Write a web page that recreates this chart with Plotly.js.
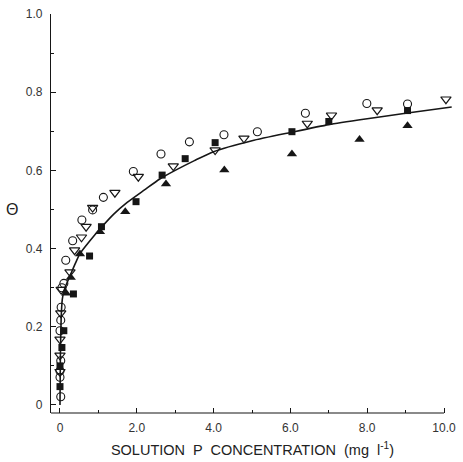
<!DOCTYPE html>
<html>
<head>
<meta charset="utf-8">
<script src="https://cdn.plot.ly/plotly-3.0.1.min.js"></script>
<style>html,body{margin:0;padding:0;background:#fff;}#chart{width:463px;height:462px;}</style>
</head>
<body>
<div id="chart"></div>
<script>
// Open circles
const circX = [0.02, 0, 0, 0.02, 0, 0.02, 0.03, 0.05, 0.1, 0.15, 0.33, 0.57, 0.85, 1.13, 1.91, 2.63, 3.37, 4.27, 5.14, 6.39, 7.99, 9.05];
const circY = [0.021, 0.071, 0.087, 0.113, 0.19, 0.217, 0.25, 0.30, 0.311, 0.37, 0.42, 0.473, 0.499, 0.531, 0.597, 0.642, 0.673, 0.691, 0.699, 0.746, 0.771, 0.77];
// Open down-triangles
const triDX = [0, 0, 0, 0.02, 0.03, 0.26, 0.38, 0.56, 0.68, 0.85, 1.43, 2.04, 2.95, 4.04, 4.79, 6.44, 7.07, 8.26, 10.05];
const triDY = [0.085, 0.127, 0.168, 0.235, 0.295, 0.34, 0.396, 0.429, 0.456, 0.505, 0.543, 0.584, 0.611, 0.652, 0.682, 0.72, 0.741, 0.754, 0.782];
// Filled squares
const sqX = [0, 0, 0.05, 0.1, 0.35, 0.77, 1.08, 1.98, 2.66, 3.26, 4.04, 6.04, 7.0, 9.05];
const sqY = [0.047, 0.10, 0.147, 0.19, 0.284, 0.381, 0.456, 0.52, 0.588, 0.63, 0.671, 0.699, 0.725, 0.753];
// Filled up-triangles
const triUX = [0.16, 0.28, 0.52, 1.04, 1.7, 2.76, 4.28, 6.04, 7.8, 9.05];
const triUY = [0.286, 0.326, 0.386, 0.443, 0.494, 0.565, 0.601, 0.642, 0.679, 0.714];
// Fitted curve
const curveX = [0, 0.01, 0.03, 0.06, 0.1, 0.15, 0.26, 0.4, 0.52, 0.78, 1.04, 1.4, 1.75, 2.2, 2.6, 3.0, 3.5, 4.0, 5.0, 6.0, 7.0, 8.0, 9.0, 10.2];
const curveY = [0, 0.12, 0.22, 0.27, 0.29, 0.305, 0.33, 0.362, 0.387, 0.42, 0.45, 0.488, 0.518, 0.55, 0.578, 0.60, 0.625, 0.648, 0.676, 0.697, 0.717, 0.732, 0.746, 0.762];
// Tick labels
const xTickVals = [0, 2, 4, 6, 8, 10];
const xTickText = ["0", "2.0", "4.0", "6.0", "8.0", "10.0"];
const xMinorVals = [1, 3, 5, 7, 9];
const yTickVals = [0, 0.2, 0.4, 0.6, 0.8, 1.0];
const yTickText = ["0", "0.2", "0.4", "0.6", "0.8", "1.0"];
const yMinorVals = [0.1, 0.3, 0.5, 0.7, 0.9];

const ink = '#161616';
const traces = [
  {x: curveX, y: curveY, mode: 'lines', line: {color: ink, width: 1.6, shape: 'spline', smoothing: 0.6}, hoverinfo: 'skip'},
  {x: circX, y: circY, mode: 'markers', cliponaxis: false, marker: {symbol: 'circle-open', size: 8, color: ink, line: {width: 1.1, color: ink}}},
  {x: triDX, y: triDY, mode: 'markers', cliponaxis: false, marker: {symbol: 'triangle-down-open', size: 9, color: ink, line: {width: 1.2, color: ink}}},
  {x: sqX, y: sqY, mode: 'markers', cliponaxis: false, marker: {symbol: 'square', size: 7, color: ink, line: {width: 0}}},
  {x: triUX, y: triUY, mode: 'markers', cliponaxis: false, marker: {symbol: 'triangle-up', size: 9, color: ink, line: {width: 0}}}
];

const fam = 'Liberation Sans, Arial, sans-serif';
const layout = {
  width: 463, height: 462,
  margin: {l: 51, r: 9, t: 14, b: 49},
  paper_bgcolor: '#fff', plot_bgcolor: '#fff',
  showlegend: false,
  font: {family: fam, color: '#333', size: 12},
  xaxis: {
    range: [-0.234, 10.26], showgrid: false, zeroline: false, showline: false,
    tickmode: 'array', tickvals: xTickVals, ticktext: xTickText,
    ticks: 'inside', ticklen: 5, tickwidth: 1, tickcolor: ink,
    minor: {tickvals: xMinorVals, ticks: 'inside', ticklen: 3, tickwidth: 1, tickcolor: ink, showgrid: false},
    tickfont: {family: fam, size: 12, color: '#333'},
    ticklabelstandoff: 6,
    title: {text: 'SOLUTION  P  CONCENTRATION  (mg  l<sup>-1</sup>)', font: {family: fam, size: 14.5, color: '#222'}, standoff: 10}
  },
  yaxis: {
    range: [-0.0205, 1.0], showgrid: false, zeroline: false, showline: true, linecolor: ink, linewidth: 1.2,
    tickmode: 'array', tickvals: yTickVals, ticktext: yTickText,
    ticks: 'inside', ticklen: 5, tickwidth: 1, tickcolor: ink,
    minor: {tickvals: yMinorVals, ticks: 'inside', ticklen: 3, tickwidth: 1, tickcolor: ink, showgrid: false},
    tickfont: {family: fam, size: 12, color: '#333'},
    ticklabelstandoff: 5
  },
  shapes: [
    {type: 'line', xref: 'x', yref: 'paper', x0: -0.234, x1: 10.0, y0: 0, y1: 0, line: {color: ink, width: 1.2}}
  ],
  annotations: [
    {text: 'Θ', xref: 'paper', yref: 'y', x: -0.097, y: 0.5, xanchor: 'center', yanchor: 'middle', showarrow: false, font: {family: fam, size: 16, color: '#222'}}
  ]
};
Plotly.newPlot('chart', traces, layout, {displayModeBar: false, staticPlot: true});
</script>
</body>
</html>
